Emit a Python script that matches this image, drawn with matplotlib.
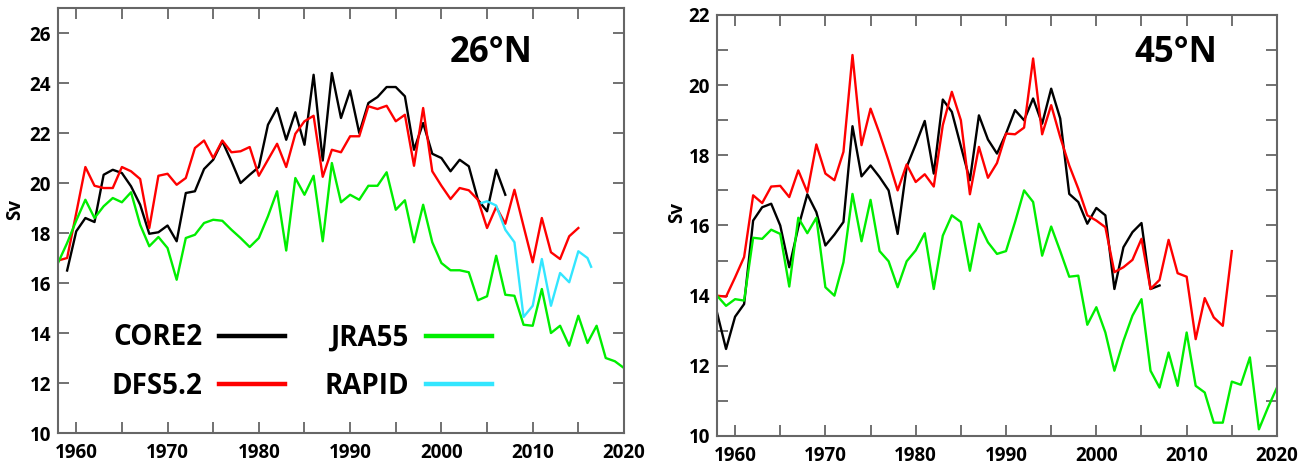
import numpy as np
import matplotlib
matplotlib.use('Agg')
import matplotlib.pyplot as plt
from matplotlib.ticker import MultipleLocator, FuncFormatter

plt.rcParams['font.family'] = ['Open Sans', 'DejaVu Sans']
plt.rcParams['font.weight'] = 'bold'

# ---- 26N ----
years_core2_26 = np.arange(1959, 2008)
core2_26 = [16.5, 18.07, 18.6, 18.44, 20.33, 20.53, 20.4, 19.87, 19.13, 17.97,
            18.03, 18.3, 17.67, 19.6, 19.67, 20.56, 20.93, 21.67, 20.87, 20.0,
            20.33, 20.64, 22.33, 23.0, 21.73, 22.83, 21.53, 24.33, 20.9, 24.4,
            22.6, 23.7, 22.0, 23.2, 23.44, 23.84, 23.84, 23.47, 21.33, 22.4,
            21.17, 21.0, 20.47, 20.93, 20.67, 19.33, 18.87, 20.53, 19.53]

years_dfs_26 = np.arange(1958, 2016)
dfs_26 = [16.9, 17.0, 18.8, 20.64, 19.89, 19.8, 19.8, 20.64, 20.47, 20.16,
          18.2, 20.29, 20.37, 19.93, 20.2, 21.4, 21.7, 21.0, 21.7, 21.23,
          21.27, 21.44, 20.29, 20.93, 21.57, 20.64, 21.97, 22.47, 22.69, 20.25,
          21.33, 21.23, 21.87, 21.87, 23.07, 22.96, 23.09, 22.47, 22.73, 20.69,
          23.0, 20.47, 19.89, 19.36, 19.8, 19.71, 19.33, 18.2, 19.04, 18.37,
          19.73, 18.27, 16.83, 18.6, 17.23, 16.96, 17.87, 18.2]

years_jra_26 = np.arange(1958, 2021)
jra_26 = [16.8, 17.6, 18.5, 19.33, 18.6, 19.07, 19.4, 19.23, 19.63, 18.33,
          17.47, 17.84, 17.4, 16.13, 17.8, 17.93, 18.4, 18.53, 18.49, 18.13,
          17.8, 17.44, 17.8, 18.67, 19.67, 17.3, 20.2, 19.53, 20.29, 17.67,
          20.8, 19.23, 19.53, 19.33, 19.89, 19.89, 20.43, 18.93, 19.31, 17.63,
          19.13, 17.63, 16.8, 16.51, 16.51, 16.43, 15.31, 15.47, 17.09, 15.53,
          15.49, 14.33, 14.29, 15.76, 14.0, 14.29, 13.49, 14.69, 13.6, 14.29,
          13.0, 12.87, 12.6]

years_rapid = [2004.4, 2005, 2006, 2007, 2008, 2009, 2010, 2011, 2012, 2013,
               2014, 2015, 2016, 2016.4]
rapid = [19.2, 19.27, 19.1, 18.13, 17.63, 14.64, 15.09, 16.96, 15.09, 16.4,
         16.03, 17.27, 17.0, 16.65]

# ---- 45N ----
years_core2_45 = np.arange(1958, 2008)
core2_45 = [13.52, 12.48, 13.4, 13.76, 16.14, 16.52, 16.62, 16.0, 14.81, 15.95,
            16.89, 16.38, 15.43, 15.74, 16.1, 18.83, 17.4, 17.71, 17.38, 17.0,
            15.76, 17.67, 18.31, 18.98, 17.48, 19.59, 19.24, 18.26, 17.29, 19.14,
            18.45, 18.05, 18.62, 19.29, 19.0, 19.62, 18.9, 19.9, 19.05, 16.9,
            16.67, 16.05, 16.5, 16.29, 14.19, 15.38, 15.81, 16.07, 14.19, 14.29]

years_dfs_45 = np.arange(1958, 2016)
dfs_45 = [14.0, 13.97, 14.52, 15.1, 16.86, 16.64, 17.11, 17.13, 16.81, 17.57,
          16.95, 18.31, 17.48, 17.29, 18.1, 20.86, 18.29, 19.33, 18.62, 17.84,
          17.0, 17.74, 17.24, 17.46, 17.11, 18.86, 19.81, 19.0, 16.89, 18.24,
          17.36, 17.78, 18.62, 18.6, 18.79, 20.76, 18.6, 19.43, 18.52, 17.71,
          17.05, 16.29, 16.14, 15.95, 14.67, 14.81, 15.02, 15.62, 14.19, 14.45,
          15.59, 14.64, 14.54, 12.76, 13.93, 13.38, 13.14, 15.27]

years_jra_45 = np.arange(1958, 2021)
jra_45 = [14.0, 13.71, 13.9, 13.86, 15.65, 15.62, 15.88, 15.76, 14.26, 16.22,
          15.78, 16.22, 14.24, 14.0, 14.95, 16.9, 15.55, 16.73, 15.27, 14.98,
          14.24, 14.98, 15.29, 15.78, 14.19, 15.71, 16.29, 16.1, 14.71, 16.05,
          15.52, 15.19, 15.27, 16.1, 17.0, 16.67, 15.14, 15.97, 15.27, 14.54,
          14.57, 13.17, 13.67, 12.95, 11.86, 12.71, 13.43, 13.9, 11.86, 11.38,
          12.38, 11.43, 12.95, 11.43, 11.24, 10.38, 10.38, 11.55, 11.46, 12.24,
          10.19, 10.81, 11.38]

c_core = '#000000'
c_dfs = '#ff0000'
c_jra = '#00ee00'
c_rapid = '#33e6ff'
spine_c = '#666666'
lw = 1.7


def style_axes(ax, ylim, ymajor, yminor=None):
    ax.set_xlim(1958, 2020)
    ax.set_ylim(*ylim)
    ax.xaxis.set_major_locator(MultipleLocator(10))
    ax.xaxis.set_minor_locator(MultipleLocator(5))
    ax.yaxis.set_major_locator(MultipleLocator(ymajor))
    if yminor:
        ax.yaxis.set_minor_locator(MultipleLocator(yminor))
    ax.yaxis.set_major_formatter(FuncFormatter(lambda v, p: '%d' % v))
    for s in ax.spines.values():
        s.set_color(spine_c)
        s.set_linewidth(1.5)
    ax.tick_params(which='both', direction='in', top=True, right=True,
                   length=8, width=1.3, color=spine_c, labelsize=13.5,
                   labelcolor='black')
    ax.tick_params(axis='x', pad=7)
    ax.tick_params(axis='y', pad=5)
    for lab in ax.get_xticklabels() + ax.get_yticklabels():
        lab.set_fontweight('bold')
    ax.set_ylabel('Sv', fontsize=13.5, fontweight='bold')


fig = plt.figure(figsize=(13.12, 4.67), dpi=100)
ax1 = fig.add_axes([0.0442, 0.0728, 0.4314, 0.910])
ax2 = fig.add_axes([0.5465, 0.0664, 0.4268, 0.9015])

ax1.plot(years_core2_26, core2_26, color=c_core, lw=lw, label='CORE2')
ax1.plot(years_dfs_26, dfs_26, color=c_dfs, lw=lw, label='DFS5.2')
ax1.plot(years_jra_26, jra_26, color=c_jra, lw=lw, label='JRA55')
ax1.plot(years_rapid, rapid, color=c_rapid, lw=lw, label='RAPID')
style_axes(ax1, (10, 27), 2)
ax1.yaxis.set_label_coords(-0.058, 0.525)
ax1.text(0.766, 0.895, '26°N', transform=ax1.transAxes, fontsize=25,
         fontweight='bold', ha='center', va='center')

leg = ax1.legend(ncol=2, loc='upper left', bbox_to_anchor=(0.094, 0.258),
                 frameon=False, markerfirst=False, fontsize=20,
                 handlelength=2.4, handletextpad=0.6, columnspacing=1.4,
                 labelspacing=0.7, borderpad=0, borderaxespad=0)
for t in leg.get_texts():
    t.set_fontweight('bold')
for h in leg.get_lines():
    h.set_linewidth(3.2)

ax2.plot(years_core2_45, core2_45, color=c_core, lw=lw)
ax2.plot(years_dfs_45, dfs_45, color=c_dfs, lw=lw)
ax2.plot(years_jra_45, jra_45, color=c_jra, lw=lw)
style_axes(ax2, (10, 22), 2, 1)
ax2.yaxis.set_label_coords(-0.054, 0.53)
ax2.text(0.819, 0.91, '45°N', transform=ax2.transAxes, fontsize=25,
         fontweight='bold', ha='center', va='center')

fig.savefig('out.png', dpi=100)
